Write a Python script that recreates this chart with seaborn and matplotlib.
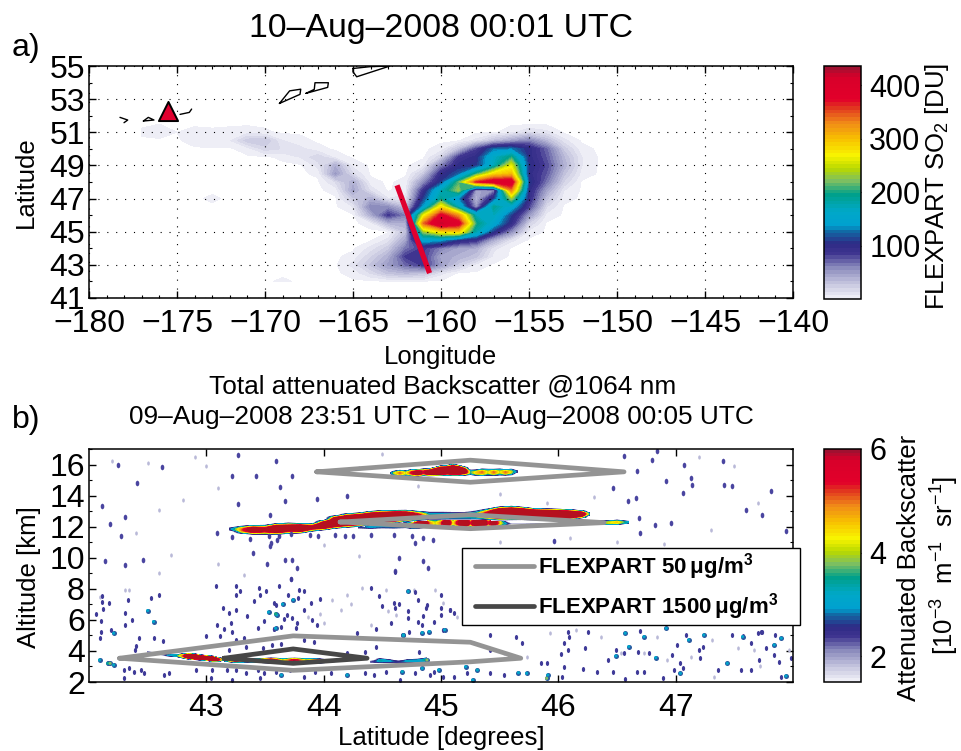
import numpy as np
import pandas as pd
import matplotlib
matplotlib.use('Agg')
import matplotlib.pyplot as plt
from matplotlib.cm import ScalarMappable
from matplotlib.colors import LinearSegmentedColormap, Normalize
from matplotlib.patches import Rectangle
from matplotlib.path import Path
from matplotlib.ticker import MultipleLocator
from matplotlib.transforms import Affine2D
import seaborn as sns

# FLEXPART SO2 field
so2_lons = list(range(-177, -150))
so2_lats = [42.0, 42.5, 43.0, 43.5, 44.0, 44.5, 45.0, 45.5, 46.0, 46.5, 47.0, 47.5, 48.0, 48.5, 49.0, 49.5, 50.0, 50.5, 51.0, 51.5]
so2_du = [
    [0, 0, 0, 0, 0, 0, 0, 0, 2, 0, 0, 0, 0, 0, 0, 0, 0, 0, 0, 0, 0, 0, 0, 0, 0, 0, 0],
    [0, 0, 0, 0, 0, 0, 0, 0, 0, 0, 0, 0, 3, 15, 30, 35, 30, 10, 0, 0, 0, 0, 0, 0, 0, 0, 0],
    [0, 0, 0, 0, 0, 0, 0, 0, 0, 0, 0, 0, 10, 30, 50, 70, 85, 50, 25, 5, 0, 0, 0, 0, 0, 0, 0],
    [0, 0, 0, 0, 0, 0, 0, 0, 0, 0, 0, 0, 3, 20, 40, 85, 85, 45, 40, 30, 5, 0, 0, 0, 0, 0, 0],
    [0, 0, 0, 0, 0, 0, 0, 0, 0, 0, 0, 0, 0, 10, 25, 65, 85, 60, 45, 40, 10, 0, 0, 0, 0, 0, 0],
    [0, 0, 0, 0, 0, 0, 0, 0, 0, 0, 0, 0, 0, 0, 10, 45, 150, 140, 105, 90, 40, 10, 0, 0, 0, 0, 0],
    [0, 0, 0, 0, 0, 0, 0, 0, 0, 0, 0, 0, 0, 0, 0, 30, 230, 280, 290, 175, 105, 55, 5, 0, 0, 0, 0],
    [0, 0, 0, 0, 0, 0, 0, 0, 0, 0, 0, 0, 0, 3, 35, 40, 340, 420, 390, 200, 150, 95, 20, 0, 0, 0, 0],
    [0, 0, 0, 0, 0, 0, 0, 0, 0, 0, 0, 0, 0, 40, 85, 60, 260, 380, 320, 170, 170, 110, 50, 5, 0, 0, 0],
    [0, 0, 0, 0, 0, 0, 0, 0, 0, 0, 0, 0, 8, 60, 55, 30, 140, 280, 170, 50, 190, 150, 80, 15, 0, 0, 0],
    [0, 0, 0, 0, 2, 0, 0, 0, 0, 0, 0, 0, 25, 40, 8, 10, 110, 190, 130, 35, 110, 230, 95, 30, 3, 0, 0],
    [0, 0, 0, 0, 0, 0, 0, 0, 0, 0, 0, 3, 45, 12, 0, 5, 90, 170, 230, 45, 55, 330, 100, 45, 8, 0, 0],
    [0, 0, 0, 0, 0, 0, 0, 0, 0, 0, 0, 15, 40, 3, 0, 3, 55, 110, 210, 360, 400, 400, 110, 65, 20, 0, 0],
    [0, 0, 0, 0, 0, 0, 0, 0, 0, 0, 2, 50, 15, 0, 0, 0, 25, 95, 120, 200, 280, 300, 100, 75, 30, 5, 0],
    [0, 0, 0, 0, 0, 0, 0, 0, 0, 0, 10, 40, 5, 0, 0, 0, 5, 60, 100, 105, 170, 260, 105, 80, 40, 8, 0],
    [0, 0, 0, 0, 0, 0, 0, 0, 2, 8, 20, 5, 0, 0, 0, 0, 0, 20, 85, 100, 165, 200, 100, 75, 35, 8, 0],
    [0, 0, 0, 0, 0, 0, 4, 18, 14, 10, 3, 0, 0, 0, 0, 0, 0, 3, 30, 80, 125, 130, 100, 70, 25, 3, 0],
    [0, 0, 0, 4, 6, 7, 25, 28, 8, 3, 0, 0, 0, 0, 0, 0, 0, 0, 0, 10, 30, 45, 60, 35, 10, 0, 0],
    [2, 4, 1, 3, 2, 3, 5, 2, 0, 0, 0, 0, 0, 0, 0, 0, 0, 0, 0, 0, 0, 5, 15, 10, 0, 0, 0],
    [0, 1, 0, 0, 0, 0, 0, 0, 0, 0, 0, 0, 0, 0, 0, 0, 0, 0, 0, 0, 0, 0, 0, 0, 0, 0, 0],
]

# coast outlines
island_lons = [
    [-178.24, -177.80, -178.01],
    [-176.91, -176.63, -176.31, -176.91],
    [-174.83, -174.30, -174.17],
    [-169.18, -168.60, -167.97, -168.01, -169.18],
    [-167.67, -167.20, -167.16, -166.40, -166.44, -167.67],
    [-165.00, -164.03, -162.90, -164.79, -165.00, -165.00],
]
island_lats = [
    [51.90, 51.74, 51.58],
    [51.68, 51.90, 51.74, 51.68],
    [52.08, 52.20, 52.40],
    [52.74, 53.50, 53.60, 53.29, 52.74],
    [53.35, 53.59, 53.99, 53.99, 53.71, 53.35],
    [54.85, 54.96, 55.00, 54.35, 54.65, 54.85],
]
volcano_lon = [-175.5]
volcano_lat = [52.3]
section_lon = [-162.5, -160.65]
section_lat = [47.8, 42.5]

# aerosol layers in panel b: column latitude, centre height, half thickness, peak backscatter
layer_a_lat = [44.57, 44.6, 44.65, 44.7, 44.75, 44.8, 44.85, 44.9, 44.95, 45.0, 45.05, 45.1, 45.15, 45.2, 45.25, 45.3, 45.35, 45.4, 45.45, 45.5, 45.55, 45.6, 45.65]
layer_a_alt = [15.45, 15.45, 15.45, 15.45, 15.47, 15.47, 15.5, 15.5, 15.55, 15.6, 15.62, 15.65, 15.62, 15.58, 15.5, 15.48, 15.5, 15.5, 15.5, 15.52, 15.5, 15.52, 15.55]
layer_a_half = [.1, .18, .24, .22, .26, .26, .28, .28, .32, .36, .38, .42, .38, .32, .22, .24, .28, .28, .26, .28, .24, .26, .12]
layer_a_peak = [2.5, 4, 5, 4, 5.5, 7, 5.5, 7, 8, 9, 8, 9, 9, 7, 3.5, 4.5, 5, 4, 5, 4, 5, 4, 2.5]

layer_b_lat = [43.2, 43.3, 43.4, 43.5, 43.6, 43.7, 43.8, 43.9, 44.0, 44.1, 44.2, 44.3, 44.4, 44.5, 44.6, 44.7, 44.8, 44.9, 45.0, 45.1, 45.2, 45.3, 45.4, 45.5, 45.6, 45.7, 45.8, 45.9, 46.0, 46.1, 46.2, 46.27]
layer_b_alt = [11.85, 11.8, 11.8, 11.8, 11.85, 11.9, 11.9, 11.95, 12.1, 12.3, 12.4, 12.45, 12.55, 12.6, 12.65, 12.7, 12.7, 12.7, 12.7, 12.7, 12.7, 12.75, 12.8, 12.85, 12.88, 12.85, 12.8, 12.8, 12.78, 12.78, 12.8, 12.82]
layer_b_half = [.15, .3, .34, .36, .4, .4, .36, .3, .36, .46, .5, .5, .5, .5, .46, .42, .36, .34, .34, .32, .32, .36, .42, .48, .5, .46, .42, .4, .4, .38, .28, .12]
layer_b_peak = [2.5, 5, 7, 6, 8, 7, 8, 6, 8, 9, 9, 9, 9, 9, 9, 8, 6, 3.5, 3.5, 3.5, 3.5, 4, 6, 9, 9, 9, 9, 9, 9, 8, 7, 3]

layer_c_lat = [44.3, 44.4, 44.5, 44.6, 44.7, 44.75, 44.8, 44.85, 44.9, 44.95, 45.0, 45.05, 45.1, 45.15, 45.2, 45.25, 45.3, 45.35, 45.4, 45.45, 45.5, 45.6, 45.7, 45.8, 45.9, 46.0, 46.1, 46.2, 46.3, 46.4, 46.5, 46.6]
layer_c_alt = [12.0, 12.0, 12.05, 12.05, 12.1, 12.1, 12.15, 12.2, 12.2, 12.22, 12.22, 12.25, 12.25, 12.25, 12.25, 12.25, 12.25, 12.25, 12.25, 12.25, 12.25, 12.2, 12.2, 12.2, 12.2, 12.2, 12.2, 12.2, 12.25, 12.25, 12.28, 12.28]
layer_c_half = [.2, .2, .22, .25, .25, .28, .3, .32, .34, .34, .34, .36, .36, .36, .36, .36, .36, .36, .36, .36, .3, .06, .05, .05, .06, .06, .08, .1, .15, .18, .2, .12]
layer_c_peak = [2.5, 3, 3, 3, 3.5, 5, 7, 8, 5, 4, 5, 8, 4, 6, 9, 5, 8, 9, 5, 7, 4.5, 1.8, 1.8, 2, 2, 2, 2.5, 3, 5, 4, 4.5, 3]

layer_d_lat = [42.5, 42.6, 42.67, 42.75, 42.8, 42.85, 42.9, 42.95, 43.0, 43.05, 43.1, 43.15]
layer_d_alt = [3.95, 3.8, 3.72, 3.7, 3.68, 3.66, 3.62, 3.58, 3.55, 3.5, 3.45, 3.45]
layer_d_half = [.08, .08, .08, .12, .18, .22, .22, .2, .2, .2, .16, .08]
layer_d_peak = [2.2, 2.5, 3, 3.5, 5, 8, 9, 8, 7, 9, 6, 3]

layer_e_lat = [43.15, 43.25, 43.35, 43.45, 43.55, 43.65, 43.75, 43.85, 43.95, 44.05, 44.15, 44.25]
layer_e_alt = [3.4, 3.4, 3.38, 3.38, 3.38, 3.38, 3.38, 3.38, 3.35, 3.35, 3.38, 3.4]
layer_e_half = [.12, .18, .18, .18, .2, .2, .2, .2, .18, .14, .1, .06]
layer_e_peak = [3, 6, 3.5, 5, 7, 4, 6, 4, 6, 3, 2.5, 1.8]

layer_f_lat = [44.4, 44.48, 44.56, 44.64, 44.72, 44.8, 44.88]
layer_f_alt = [3.3, 3.38, 3.35, 3.3, 3.35, 3.38, 3.42]
layer_f_half = [.1, .2, .16, .12, .16, .16, .2]
layer_f_peak = [2.2, 3.4, 3, 2.5, 3.2, 3, 3.6]

# isolated returns, first pass over the whole section
speck_lat = [42.41, 42.11, 42.25, 42.62, 42.18, 42.31, 42.27, 42.46, 42.14, 42.31, 43.22, 43.27, 43.59, 43.42, 43.73, 43.63, 43.67, 43.27, 43.54, 43.94,
             44.2, 43.09, 43.54, 43.4, 43.6, 43.73, 43.67, 43.52, 43.77, 43.72, 44.61, 44.85, 44.64, 44.78, 44.89, 46.56, 46.67, 46.84, 46.8, 46.47,
             46.59, 46.66, 46.69, 46.96, 46.82, 46.92, 47.06, 47.13, 47.14, 47.41, 47.48, 47.81, 47.94, 47.6, 47.74, 47.4, 47.07, 46.7, 44.93, 45.96,
             43.22, 43.37, 43.55, 43.53, 43.62, 43.72, 43.88, 43.95, 44.1, 44.18, 44.25, 44.4, 44.6, 44.75, 44.85]
speck_alt = [14.82, 13.31, 15.96, 15.83, 12.17, 12.6, 11.38, 9.87, 9.76, 9.5, 15.25, 16.64, 16.2, 15.25, 15.25, 14.54, 13.68, 13.46, 12.77, 13.78,
             13.96, 11.59, 10.73, 10.3, 11.16, 9.87, 9.87, 9.59, 9.33, 8.65, 9.16, 9.76, 9.98, 10.95, 9.33, 16.54, 15.57, 16.86, 16.32, 14.49,
             13.63, 13.85, 12.56, 12.24, 12.13, 14.92, 14.17, 15.14, 14.71, 14.71, 14.6, 14.28, 11.7, 13.1, 12.77, 16.2, 16.0, 11.6, 11.16, 11.05,
             11.35, 11.2, 10.95, 11.4, 11.4, 11.5, 11.45, 11.4, 11.45, 11.4, 11.4, 11.45, 11.45, 11.4, 11.3]

# dark returns in the low cloud band
low_lat = [42.11, 42.12, 42.06, 42.10, 42.10, 42.09, 42.19, 42.31, 42.37, 42.55, 42.43, 42.63, 42.53, 42.40, 42.39, 42.16, 42.30, 42.34, 42.44, 42.38,
           42.47, 42.30, 42.64, 42.68, 42.91, 42.17, 42.31, 42.33, 42.11, 42.60, 43.25, 43.29, 43.45, 43.46, 43.51, 43.41, 43.25, 43.14, 43.19, 43.35,
           43.49, 43.44, 43.58, 43.59, 43.25, 43.21, 43.15, 43.22, 43.32, 43.48, 43.34, 43.25, 43.08, 43.09, 43.12, 43.0, 43.19, 43.25, 43.34, 43.44,
           43.49, 43.59, 43.46, 43.22, 43.18, 43.05, 43.04, 43.72, 44.61, 43.62, 43.70, 43.79, 43.83, 43.78, 43.58, 43.97, 43.89, 43.69, 43.73, 43.66,
           43.83, 43.90, 43.94, 43.77, 43.76, 43.64, 43.58, 44.28, 44.45, 44.57, 44.50, 44.60, 44.64, 44.61, 44.72, 44.80, 44.78, 44.40, 44.47, 44.88,
           44.87, 45.0, 45.08, 45.11, 45.0, 44.85, 44.94, 44.80, 44.72, 44.84, 44.73, 44.45, 44.20, 44.35, 44.81, 43.83, 43.92, 43.64, 43.56, 43.71,
           43.83, 43.93, 44.06, 44.35, 44.43, 44.53, 44.65, 44.91, 44.94, 45.02, 45.11, 44.78, 45.22, 45.42, 45.54, 45.85, 45.90, 46.03, 46.05, 46.47,
           46.57, 46.67, 46.73, 46.89, 46.99, 47.06, 46.97, 47.04, 47.21, 47.56, 47.64, 47.90, 47.84, 47.85, 47.70, 47.74, 47.48, 47.09, 47.23, 47.20,
           47.01, 46.70, 46.09, 46.05, 46.23, 46.49, 46.56, 46.42, 46.68, 46.77, 46.02, 46.08, 45.69, 45.64, 45.42, 45.42, 46.21, 47.64, 47.71, 47.98,
           47.88, 47.77, 47.36, 46.33, 45.0, 45.08, 45.02, 46.25, 46.08, 47.57, 47.73]
low_alt = [7.14, 6.69, 6.37, 5.90, 5.21, 4.82, 5.36, 6.43, 6.0, 4.82, 4.82, 4.67, 7.4, 4.33, 4.07, 3.2, 2.78, 2.93, 2.78, 2.67,
           2.56, 2.24, 2.46, 2.56, 2.78, 7.08, 5.68, 7.29, 7.51, 7.62, 8.15, 7.83, 8.05, 7.62, 7.83, 7.19, 7.62, 6.76, 6.43, 6.26,
           5.9, 5.47, 5.4, 6.97, 6.65, 5.79, 5.4, 5.25, 4.82, 4.18, 4.28, 4.71, 8.15, 5.68, 4.93, 4.93, 4.07, 2.78, 2.56, 2.78,
           2.56, 2.67, 2.24, 2.13, 2.78, 2.78, 2.24, 8.6, 9.1, 8.15, 7.61, 7.94, 7.83, 7.4, 7.08, 7.34, 7.08, 6.33, 6.11, 6.04,
           6.65, 6.0, 5.68, 5.83, 5.47, 5.57, 5.4, 5.14, 5.4, 5.79, 6.9, 7.08, 7.03, 6.75, 6.6, 7.29, 7.77, 8.05, 7.55, 6.97,
           6.75, 7.61, 6.65, 6.43, 6.33, 6.22, 5.89, 5.89, 6.11, 5.68, 5.25, 4.28, 3.85, 3.96, 3.96, 4.71, 4.6, 4.45, 4.39, 2.78,
           2.35, 2.67, 2.56, 2.56, 2.45, 2.67, 2.13, 2.45, 2.67, 2.35, 2.35, 2.56, 2.56, 2.6, 2.45, 3.2, 3.2, 2.3, 2.99, 2.67,
           2.17, 2.67, 2.67, 2.24, 2.77, 2.88, 3.74, 3.25, 3.53, 2.77, 2.77, 2.34, 3.74, 5.03, 5.14, 5.25, 5.03, 5.03, 4.28, 4.06,
           4.39, 5.31, 4.92, 4.49, 4.17, 4.06, 3.85, 3.42, 3.96, 3.85, 3.78, 4.06, 4.54, 4.92, 5.03, 4.06, 2.82, 4.49, 3.42, 3.53,
           3.31, 4.17, 2.77, 2.67, 6.75, 6.65, 5.35, 5.25, 5.25, 4.93, 5.25]

# returns with a brighter core: latitude, altitude, peak backscatter
core_lat = [42.09, 42.16, 42.21, 42.50, 42.55, 42.21, 43.53, 43.6, 43.59, 44.72, 44.68, 43.74, 43.65, 43.59, 44.68, 44.84, 44.90, 45.03, 43.64, 44.2,
            44.67, 44.84, 44.98, 44.88, 45.21, 45.31, 45.27, 45.66, 45.73, 45.91, 45.90, 47.04, 46.83, 47.44, 47.94, 47.84, 47.9, 47.57, 47.24, 47.11,
            46.92, 46.73, 46.57, 46.6, 46.49, 42.18]
core_alt = [3.42, 3.2, 3.1, 6.6, 5.89, 5.14, 6.5, 6.32, 5.46, 7.83, 5.03, 7.29, 7.01, 6.39, 5.0, 5.18, 5.25, 5.36, 2.45, 2.45,
            2.67, 2.88, 2.78, 3.42, 2.99, 2.77, 2.13, 2.6, 2.56, 2.45, 2.24, 2.56, 3.57, 3.2, 2.39, 4.39, 4.82, 4.92, 5.03, 4.71,
            5.46, 4.92, 5.14, 4.28, 3.68, 3.2]
core_val = [3.2, 3.4, 3.2, 3.1, 3.1, 3.1, 3.1, 3.1, 3.1, 3.1, 3.1, 3.1, 3.1, 3.6, 3.2, 3.1, 3.1, 3.1, 3.1, 3.1,
            3.2, 3.1, 3.1, 3.8, 3.1, 3.2, 3.1, 3.1, 3.1, 3.1, 3.8, 3.1, 3.1, 3.1, 3.1, 3.1, 3.1, 3.1, 3.1, 3.1,
            3.1, 3.1, 3.1, 3.1, 3.1, 3.8]

# faint returns
pale_lat = [42.6, 43.32, 42.31, 42.34, 42.09, 44.23, 44.4, 44.15, 44.33, 44.53, 44.55, 44.62, 44.2, 44.0, 43.87, 43.97, 44.07, 44.77, 44.95, 45.02,
            45.14, 45.28, 45.54, 45.73, 45.93, 46.15, 46.36, 46.53, 46.84, 47.13, 47.31, 47.53, 47.67, 47.97, 47.72, 47.33, 46.73, 46.93, 42.2, 42.5,
            42.9, 43.0, 43.1, 42.8, 42.6, 42.4, 42.7, 43.1, 44.3, 44.5, 44.8, 45.5, 45.9, 46.3, 46.1, 45.5, 46.5, 47.2, 47.5, 47.7,
            47.3, 46.9, 44.0, 44.3]
pale_alt = [9.0, 8.9, 7.94, 7.94, 7.5, 7.0, 5.7, 6.65, 8.05, 7.94, 6.54, 6.3, 7.6, 5.8, 6.2, 6.4, 7.3, 7.9, 7.9, 7.1,
            6.2, 4.5, 3.85, 3.63, 5.14, 5.35, 4.92, 3.85, 4.92, 3.63, 4.71, 4.17, 4.06, 4.06, 3.0, 2.34, 3.85, 3.42, 16.2, 16.1,
            16.5, 15.9, 14.5, 13.7, 13.1, 11.6, 10.2, 9.6, 15.8, 16.7, 14.6, 14.1, 13.5, 13.9, 11.3, 11.0, 11.0, 16.5, 15.9, 13.5,
            11.8, 10.9, 10.8, 10.1]

# FLEXPART outlines in panel b
outer_top_lat = [43.94, 45.25, 46.56, 45.25, 43.94]
outer_top_alt = [15.53, 16.28, 15.53, 14.86, 15.53]
outer_mid_lat = [44.14, 45.25, 46.39, 45.25, 44.14]
outer_mid_alt = [12.3, 12.77, 12.26, 11.87, 12.3]
outer_low_lat = [42.26, 43.74, 45.25, 45.68, 45.25, 43.74, 42.26]
outer_low_alt = [3.53, 4.97, 4.56, 3.53, 3.3, 2.75, 3.53]
inner_low_lat = [43.15, 43.74, 44.37, 43.74, 43.15]
inner_low_alt = [3.53, 4.13, 3.53, 3.2, 3.53]

# colour stops picked from the colour bars
cmap_pos = [0, .06, .13, .19, .233, .29, .31, .375, .447, .51, .56, .617, .69, .76, .83, .86, .96, 1]
cmap_col = ['#eeeef6', '#c4c4de', '#8a8abc', '#3f3590', '#2e2a85', '#0f6fa8', '#00a0d0', '#00a8c8', '#00a08a', '#80c060',
            '#b8d800', '#f8f400', '#f8c000', '#f08a18', '#e03020', '#e2002a', '#d8002a', '#a01030']
rainbow = LinearSegmentedColormap.from_list('rainbow_pale', list(zip(cmap_pos, cmap_col)), N=64)
rainbow.set_over('#b5101f')

W, H = 961, 751


def box(x0, y0, x1, y1):
    return [x0 / W, 1 - y1 / H, (x1 - x0) / W, (y1 - y0) / H]


def ftext(x, y, s, **kw):
    kw.setdefault('ha', 'center')
    kw.setdefault('va', 'center')
    fig.text(x / W, 1 - y / H, s, **kw)


sns.set_style('ticks')
plt.rcParams['font.family'] = ['Liberation Sans', 'DejaVu Sans']
plt.rcParams['mathtext.default'] = 'regular'
plt.rcParams['axes.linewidth'] = 1.1
for key in ['text.color', 'axes.labelcolor', 'xtick.color', 'ytick.color', 'axes.edgecolor']:
    plt.rcParams[key] = 'k'

fig = plt.figure(figsize=(W / 100, H / 100), dpi=100)
ax1 = fig.add_axes(box(89, 66, 793, 298))
ax2 = fig.add_axes(box(89, 449, 793, 682))
cax1 = fig.add_axes(box(824, 66, 861, 299))
cax2 = fig.add_axes(box(824, 449, 861, 682))

# panel a
norm1 = Normalize(1, 436)
levels1 = np.linspace(1, 436, 65)
ax1.contourf(so2_lons, so2_lats, np.array(so2_du, dtype=float), levels=levels1, cmap=rainbow, norm=norm1)
for lon, lat in zip(island_lons, island_lats):
    sns.lineplot(x=lon, y=lat, ax=ax1, sort=False, estimator=None, color='k', lw=1.0)
sns.lineplot(x=section_lon, y=section_lat, ax=ax1, sort=False, estimator=None, color='#e0002f', lw=3.8, solid_capstyle='butt')
sns.scatterplot(x=volcano_lon, y=volcano_lat, ax=ax1, marker='^', s=190, color='#e0002f', edgecolor='k', linewidth=1.4, zorder=5)
ax1.set_xlim(-180, -140)
ax1.set_ylim(41, 55)
ax1.set_xticks(range(-180, -139, 5))
ax1.set_yticks(range(41, 56, 2))
ax1.xaxis.set_minor_locator(MultipleLocator(1))
ax1.yaxis.set_minor_locator(MultipleLocator(1))
ax1.grid(which='major', color='k', linestyle=(0, (1, 7)), lw=0.8)
ax1.set_axisbelow(False)
ax1.set_xlabel('Longitude', fontsize=18.5, labelpad=4)
ax1.set_ylabel('Latitude', fontsize=18.5, labelpad=8)

# panel b
norm2 = Normalize(1.5, 6)
levels2 = np.linspace(1.5, 6, 65)
layers = [
    (layer_a_lat, layer_a_alt, layer_a_half, layer_a_peak),
    (layer_c_lat, layer_c_alt, layer_c_half, layer_c_peak),
    (layer_b_lat, layer_b_alt, layer_b_half, layer_b_peak),
    (layer_d_lat, layer_d_alt, layer_d_half, layer_d_peak),
    (layer_e_lat, layer_e_alt, layer_e_half, layer_e_peak),
    (layer_f_lat, layer_f_alt, layer_f_half, layer_f_peak),
]
for lat, alt, half, peak in layers:
    alt = np.array(alt)
    rows = np.linspace(alt.min() - 0.6, alt.max() + 0.6, 90)
    dz = (rows[:, None] - alt[None, :]) / np.array(half)
    cell = np.array(peak) * np.clip(1 - dz ** 2, 0, None)
    ax2.contourf(lat, rows, cell, levels=levels2, cmap=rainbow, norm=norm2, extend='max')

# tall narrow dots, the returns are stretched in height
drop = Path.unit_circle().transformed(Affine2D().scale(0.65, 1.0))
sns.scatterplot(x=pale_lat, y=pale_alt, ax=ax2, color='#b9b9d8', s=9, marker=drop, linewidth=0, legend=False)
sns.scatterplot(x=speck_lat, y=speck_alt, ax=ax2, color='#4a45a0', s=16, marker=drop, linewidth=0, legend=False)
sns.scatterplot(x=low_lat, y=low_alt, ax=ax2, color='#3f3a98', s=13, marker=drop, linewidth=0, legend=False)
cores = pd.DataFrame({'lat': core_lat, 'alt': core_alt, 'val': core_val})
sns.scatterplot(data=cores, x='lat', y='alt', ax=ax2, color='#2a5aa0', s=13, linewidth=0, legend=False)
sns.scatterplot(data=cores, x='lat', y='alt', hue='val', ax=ax2, palette=rainbow, hue_norm=norm2, s=5, linewidth=0, legend=False)

grey = '#949494'
dark = '#474747'
sns.lineplot(x=outer_top_lat, y=outer_top_alt, ax=ax2, sort=False, estimator=None, color=grey, lw=3.4, label='FLEXPART 50$\\,\\mu$g/m$^3$')
sns.lineplot(x=outer_mid_lat, y=outer_mid_alt, ax=ax2, sort=False, estimator=None, color=grey, lw=3.4)
sns.lineplot(x=outer_low_lat, y=outer_low_alt, ax=ax2, sort=False, estimator=None, color=grey, lw=3.4)
sns.lineplot(x=inner_low_lat, y=inner_low_alt, ax=ax2, sort=False, estimator=None, color=dark, lw=3.4, label='FLEXPART 1500$\\,\\mu$g/m$^3$')
ax2.set_xlim(42, 48)
ax2.set_ylim(2, 17)
ax2.set_xticks(range(43, 48))
ax2.set_yticks(range(2, 17, 2))
ax2.yaxis.set_minor_locator(MultipleLocator(1))
ax2.set_xlabel('Latitude [degrees]', fontsize=18.5, labelpad=2)
ax2.set_ylabel('Altitude [km]', fontsize=18.5, labelpad=6, y=0.45)

# legend frame runs past the axes, so it is drawn on its own
frame = Rectangle((462 / W, 1 - 625 / H), 338 / W, 77 / H, transform=fig.transFigure, facecolor='w', edgecolor='k', lw=1.0, clip_on=False, zorder=9)
ax2.add_patch(frame)
leg = ax2.legend(loc='center left', bbox_to_anchor=(475 / W, 1 - 586.5 / H), bbox_transform=fig.transFigure, frameon=False,
                 prop={'size': 16, 'weight': 'bold'}, handlelength=2.65, handletextpad=0.2, labelspacing=0.4, borderpad=0, borderaxespad=0)
leg.set_zorder(10)

for ax in (ax1, ax2):
    ax.tick_params(which='major', direction='in', top=True, right=True, length=5, width=1, labelsize=23, pad=3)
    ax.tick_params(which='minor', direction='in', top=True, right=True, length=2.5, width=0.8)
    ax.tick_params(axis='x', which='major', pad=8)
ax2.tick_params(axis='x', which='minor', length=0)

# colour bars
fig.colorbar(ScalarMappable(norm=norm1, cmap=rainbow), cax=cax1, ticks=[100, 200, 300, 400])
fig.colorbar(ScalarMappable(norm=norm2, cmap=rainbow), cax=cax2, ticks=[2, 4, 6])
for cax in (cax1, cax2):
    cax.tick_params(direction='in', left=True, right=True, length=3, width=0.8, labelsize=22, pad=6)
    cax.set_yticks(cax.get_yticks())
    cax.set_yticklabels([str(int(t)) for t in cax.get_yticks()])
    for s in cax.spines.values():
        s.set_linewidth(1.1)

# figure text
ftext(441, 29, '10–Aug–2008 00:01 UTC', fontsize=24.3)
ftext(26, 48, 'a)', fontsize=23)
ftext(26, 420, 'b)', fontsize=23)
ftext(443, 386, 'Total attenuated Backscatter @1064 nm', fontsize=18.9)
ftext(441, 417, '09–Aug–2008 23:51 UTC – 10–Aug–2008 00:05 UTC', fontsize=18.9)
ftext(937, 186, 'FLEXPART SO$_2$ [DU]', fontsize=18.5, rotation=90)
ftext(909, 568, 'Attenuated Backscatter', fontsize=18.5, rotation=90)
ftext(945, 565, '[10$^{-3}$  m$^{-1}$  sr$^{-1}$]', fontsize=18.5, rotation=90)

fig.savefig('out.png', dpi=100)
